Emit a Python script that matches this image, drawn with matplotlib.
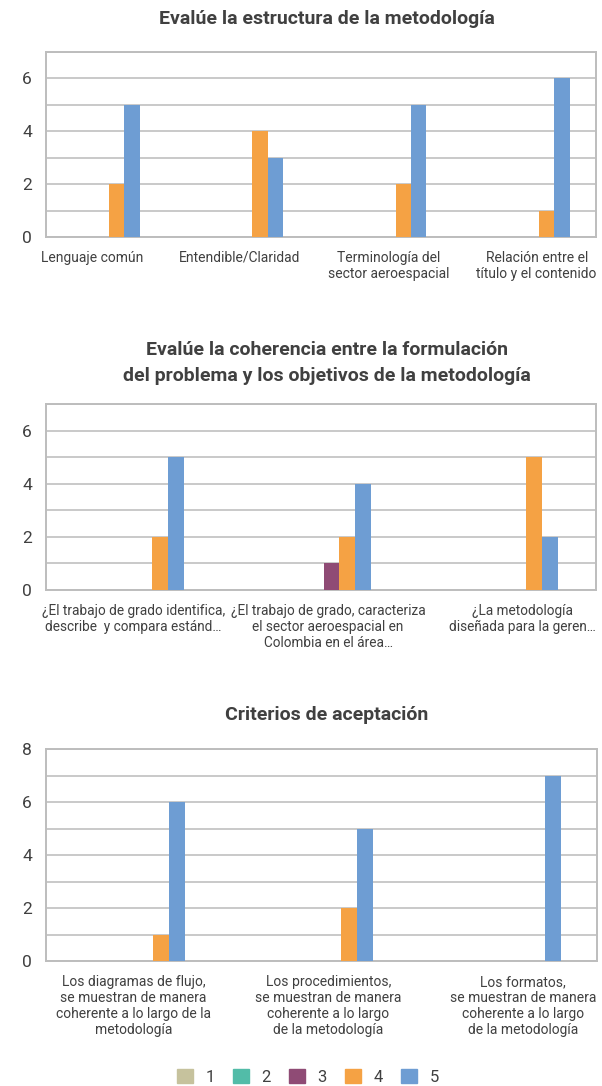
import matplotlib
matplotlib.use("Agg")
import matplotlib.pyplot as plt
import numpy as np
from matplotlib.patches import Patch

plt.rcParams['font.family'] = ['Roboto', 'DejaVu Sans']

# data
series_names = ["1", "2", "3", "4", "5"]
colors = ["#C6C29D", "#52BCA8", "#8F4B75", "#F5A244", "#6E9DD3"]

title1 = "Evalúe la estructura de la metodología"
cats1 = ["Lenguaje común", "Entendible/Claridad", "Terminología del\nsector aeroespacial",
         "Relación entre el\ntítulo y el contenido"]
vals1 = [[0, 0, 0, 0],
         [0, 0, 0, 0],
         [0, 0, 0, 0],
         [2, 4, 2, 1],
         [5, 3, 5, 6]]

title2 = "Evalúe la coherencia entre la formulación\ndel problema y los objetivos de la metodología"
cats2 = ["¿El trabajo de grado identifica,\ndescribe  y compara estánd…",
         "¿El trabajo de grado, caracteriza\nel sector aeroespacial en\nColombia en el área…",
         "¿La metodología\ndiseñada para la geren…"]
vals2 = [[0, 0, 0],
         [0, 0, 0],
         [0, 1, 0],
         [2, 2, 5],
         [5, 4, 2]]

title3 = "Criterios de aceptación"
cats3 = ["Los diagramas de flujo,\nse muestran de manera\ncoherente a lo largo de la\nmetodología",
         "Los procedimientos,\nse muestran de manera\ncoherente a lo largo\nde la metodología",
         "Los formatos,\nse muestran de manera\ncoherente a lo largo\nde la metodología"]
vals3 = [[0, 0, 0],
         [0, 0, 0],
         [0, 0, 0],
         [1, 2, 0],
         [6, 5, 7]]

W, H = 602, 1086
fig = plt.figure(figsize=(W / 100, H / 100), dpi=100)

text_color = "#404040"
grid_color = "#C9C9C9"


def draw(rect, title, title_y, cats, vals, ymax, yticks, xmin, xmax, w,
         lab_step, lab_off, lab_size):
    left, top, right, bottom = rect
    ax = fig.add_axes([left / W, 1 - bottom / H, (right - left) / W, (bottom - top) / H])
    x = np.arange(len(cats))
    for i, v in enumerate(vals):
        ax.bar(x + (i - 3) * w + w / 2, v, width=w, color=colors[i], zorder=3)
    ax.set_xlim(xmin, xmax)
    ax.set_ylim(0, ymax)
    ax.set_yticks(yticks)
    ax.set_yticks(np.arange(0, ymax + 1), minor=True)
    ax.grid(axis='y', which='both', color=grid_color, linewidth=1.4, zorder=0)
    ax.set_xticks(x * lab_step + lab_off)
    ax.set_xticklabels(cats, fontsize=lab_size, color=text_color, linespacing=1.2)
    ax.tick_params(axis='both', which='both', length=0)
    ax.tick_params(axis='y', labelsize=12.5, labelcolor=text_color, pad=10)
    ax.tick_params(axis='x', pad=10)
    for s in ax.spines.values():
        s.set_color("#BDBDBD")
        s.set_linewidth(1.4)
    fig.text(327 / W, 1 - title_y / H, title, ha='center', va='center',
             fontsize=14, fontweight='bold', color=text_color, linespacing=1.55)
    return ax


draw((46, 52, 596, 237), title1, 19, cats1, vals1, 7, [0, 2, 4, 6],
     -0.439, 3.399, 0.108, 1.035, -0.12, 10)
draw((46, 404, 596, 590), title2, 363, cats2, vals2, 7, [0, 2, 4, 6],
     -0.568, 2.373, 0.084, 1.04, -0.1, 9.8)
draw((46, 749, 597, 961), title3, 715, cats3, vals3, 8, [0, 2, 4, 6, 8],
     -0.570, 2.361, 0.084, 1.037, -0.105, 10)

handles = [Patch(color=c, label=n) for c, n in zip(colors, series_names)]
fig.legend(handles=handles, loc='center', bbox_to_anchor=(308 / W, 1 - 1077 / H), ncol=5,
           frameon=False, fontsize=12, handlelength=0.95, handleheight=0.95,
           columnspacing=1.1, handletextpad=0.75, labelcolor=text_color)

fig.savefig("out.png", dpi=100)
